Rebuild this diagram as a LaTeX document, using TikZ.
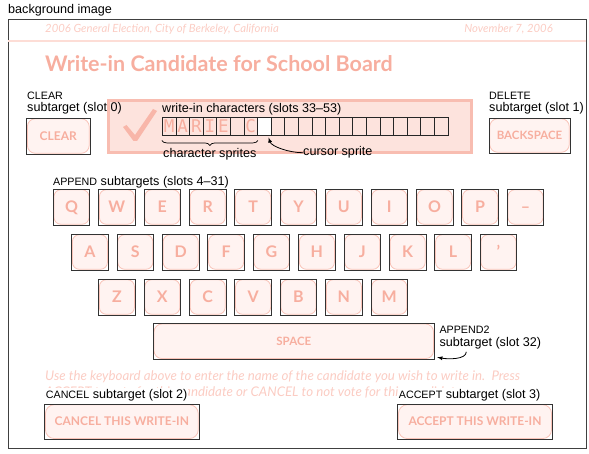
\documentclass[tikz,border=0pt]{standalone}
\usepackage{fontspec}
\setmainfont{Liberation Sans}
\newfontfamily\ballotfont{Lato}
\newfontfamily\spritefont{DejaVu Sans Mono}
\usetikzlibrary{positioning}
\usetikzlibrary{calc}
\usetikzlibrary{decorations.pathreplacing}

\definecolor{inkpink}{HTML}{F7AE9F}
\definecolor{faintink}{HTML}{FBCCC3}
\definecolor{keyfill}{HTML}{FFF3F1}
\definecolor{keyline}{HTML}{F9C3B8}
\definecolor{panelfill}{HTML}{FDE3DD}
\definecolor{panelline}{HTML}{F8BDB1}
\definecolor{ruleline}{HTML}{FDDDD6}

\newcommand\capw[1]{{\fontsize{10.7}{12}\selectfont #1}}

\begin{document}
\begin{tikzpicture}[x=1pt, y=-1pt,
    lbl/.style={font=\fontsize{12.6}{14}\selectfont, inner sep=0pt, anchor=base west},
    btn/.style={draw=black!80, line width=0.9pt, inner sep=0pt, text=inkpink,
      font=\ballotfont\bfseries\fontsize{12}{12}\selectfont,
      path picture={\draw[keyline, fill=keyfill, line width=0.8pt, rounded corners=#1]
        ([shift={(0.7pt,0.7pt)}]path picture bounding box.south west) rectangle
        ([shift={(-0.7pt,-0.7pt)}]path picture bounding box.north east);}},
    btn/.default=8pt,
    keybox/.style={btn=7pt, minimum width=36.5pt, minimum height=36pt,
      text height=11.5pt, text depth=0pt,
      font=\ballotfont\bfseries\fontsize{16}{16}\selectfont},
    cell/.style={draw=black!85, line width=0.8pt, minimum width=13.6pt,
      minimum height=17.3pt, inner sep=0pt, fill=panelfill},
    sprite/.style={text=inkpink, font=\spritefont\fontsize{17.5}{17}\selectfont, inner sep=0pt},
    ballot/.style={inner sep=0pt, anchor=base west, text=faintink,
      font=\ballotfont\itshape\fontsize{11.3}{12}\selectfont},
    instr/.style={ballot, font=\ballotfont\itshape\fontsize{13.3}{14}\selectfont},
  ]
    \useasboundingbox (0,0) rectangle (589,454);

    % ballot page
    \node[lbl] (bglbl) at (8,14) {background image};
    \draw[black!75, line width=1pt] (8,20) rectangle (586,448);
    \node[ballot] (hdrelection) at (45,33) {2006 General Election, City of Berkeley, California};
    \node[ballot, anchor=base east] (hdrdate) at (553,33) {November 7, 2006};
    \draw[ruleline, line width=1.2pt] (8,41) -- (586,41);
    \node[anchor=base west, inner sep=0pt, text=inkpink,
      font=\ballotfont\bfseries\fontsize{21.5}{24}\selectfont] (title) at (45,72)
      {Write-in Candidate for School Board};

    % write-in panel
    \node[draw=panelline, line width=3pt, fill=panelfill, minimum width=363pt,
      minimum height=52pt, inner sep=0pt] (panel) at (290,126.5) {};
    \fill[inkpink!90] (123,127) -- (126.5,125) -- (135,135) -- (153,109) -- (157,111)
      -- (137,141) -- (133.5,141) -- cycle;
    \foreach \i in {0,...,20}
      \node[cell] (c\i) at ({169.1+13.6*\i},126.4) {};
    \node[cell, fill=white] (cursorcell) at (c7) {};
    \foreach \ch/\i in {M/0,A/1,R/2,I/3,E/4,C/6}
      \node[sprite] (s\i) at (c\i) {\ch};
    \draw[decorate, decoration={brace, mirror, amplitude=5pt}, line width=0.7pt]
      ([yshift=-5pt]c0.south west) -- ([yshift=-5pt]c6.south east);

    \node[lbl] (writelbl) at (162,112.5) {write-in characters (slots 33--53)};
    \node[lbl] (spritelbl) at (163,158) {character sprites};
    \node[lbl] (cursorlbl) at (303,156) {cursor sprite};
    \draw[-latex, line width=0.8pt] (cursorlbl.west) .. controls +(-14,0) and +(3,9) ..
      ([shift={(-3pt,-2pt)}]c7.south east);

    % clear and delete
    \node[btn, minimum width=63.3pt, minimum height=36pt] (clearbtn) at (58.3,136) {CLEAR};
    \node[lbl] (clearlbl) at (27,99.5) {\capw{CLEAR}};
    \node[lbl] (clearsub) at (27,111.5) {subtarget (slot 0)};
    \node[btn, minimum width=81pt, minimum height=35pt, font=\ballotfont\bfseries\fontsize{11.5}{12}\selectfont] (backbtn) at (529.5,135.5) {BACKSPACE};
    \node[lbl] (deletelbl) at (489,99.5) {\capw{DELETE}};
    \node[lbl] (deletesub) at (489,111.5) {subtarget (slot 1)};

    % keyboard
    \node[lbl] (appendlbl) at (53,185.5) {\capw{APPEND} subtargets (slots 4--31)};
    \foreach \k [count=\i from 0] in {Q,W,E,R,T,Y,U,I,O,P,–}
      \node[keybox] (qrow\i) at ({71.5+45.4*\i},207) {\k};
    \foreach \k [count=\i from 0] in {A,S,D,F,G,H,J,K,L,’}
      \node[keybox] (arow\i) at ({89.9+45.4*\i},252) {\k};
    \foreach \k [count=\i from 0] in {Z,X,C,V,B,N,M}
      \node[keybox] (zrow\i) at ({116.9+45.4*\i},297) {\k};
    \node[btn, minimum width=281pt, minimum height=36pt, font=\ballotfont\bfseries\fontsize{11.5}{12}\selectfont] (spacebtn) at (293.8,341.3) {SPACE};
    \node[lbl] (appendtwolbl) at (439.3,334) {\capw{APPEND2}};
    \node[lbl] (appendtwosub) at (439.3,346) {subtarget (slot 32)};
    \draw[-latex, line width=0.8pt] ([shift={(27pt,-3pt)}]appendtwosub.south west)
      .. controls +(0,8) and +(10,2) .. ([shift={(2.5pt,2.5pt)}]spacebtn.south east);

    % instructions
    \node[instr] (instrone) at (45,380.5)
      {Use the keyboard above to enter the name of the candidate you wish to write in.\ \ Press};
    \node[instr] (instrtwo) at (45,396)
      {ACCEPT to vote for this candidate or CANCEL to not vote for this candidate.};

    % cancel and accept
    \node[lbl, fill=white, inner sep=1pt] (cancellbl) at (44.7,398) {\capw{CANCEL} subtarget (slot 2)};
    \node[lbl, fill=white, inner sep=1pt] (acceptlbl) at (397.7,398) {\capw{ACCEPT} subtarget (slot 3)};
    \node[btn=9pt, minimum width=154.3pt, minimum height=35.3pt] (cancelbtn) at (121.85,421.65) {CANCEL THIS WRITE-IN};
    \node[btn=9pt, minimum width=154.6pt, minimum height=35.3pt] (acceptbtn) at (475,421.65) {ACCEPT THIS WRITE-IN};
\end{tikzpicture}
\end{document}
